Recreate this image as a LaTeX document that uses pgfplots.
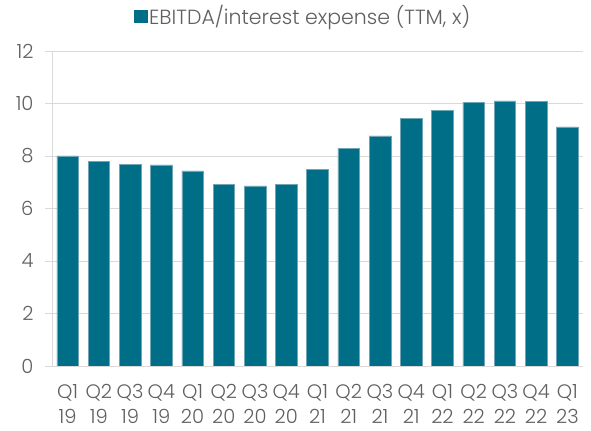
\documentclass[border=0pt]{standalone}
\usepackage{pgfplots}
\pgfplotsset{compat=1.18}
\usepackage{fontspec}
\IfFontExistsTF{Poppins Light}{\setmainfont{Poppins Light}}{\setmainfont{Open Sans}}
\definecolor{barcol}{HTML}{006E87}
\definecolor{baredge}{HTML}{6FA6B6}
\definecolor{txt}{HTML}{606060}
\definecolor{gridc}{HTML}{D9D9D9}

\begin{document}
\begin{tikzpicture}
\begin{axis}[
    scale only axis,
    width=531bp, height=315bp,
    ybar, bar width=0.69,
    xmin=-0.5, xmax=16.5,
    ymin=0, ymax=12,
    ytick={0,2,4,6,8,10,12},
    xtick=data,
    xticklabels={Q1\\19,Q2\\19,Q3\\19,Q4\\19,Q1\\20,Q2\\20,Q3\\20,Q4\\20,Q1\\21,Q2\\21,Q3\\21,Q4\\21,Q1\\22,Q2\\22,Q3\\22,Q4\\22,Q1\\23},
    axis x line*=bottom, axis y line*=left,
    axis line style={draw=gridc, line width=0.8bp},
    x tick style={draw=none},
    y tick style={draw=gridc, line width=0.8bp},
    tick align=outside, major tick length=7bp,
    ymajorgrids, grid style={draw=gridc, line width=0.8bp},
    /pgf/number format/assume math mode=true,
    tick label style={font=\fontsize{19.5bp}{25bp}\selectfont, text=txt},
    xticklabel style={align=center, yshift=-8bp},
    yticklabel style={xshift=-8bp},
    legend style={at={(rel axis cs:0.473,1.111)}, anchor=center, draw=none,
        fill=none, font=\fontsize{20.5bp}{24bp}\selectfont, text=txt,
        inner sep=0pt},
    legend image code/.code={\fill[barcol] (-2bp,-6bp) rectangle (10.5bp,6bp);},
]
\addplot[fill=barcol, draw=baredge, line width=0.5bp] coordinates {
    (0, 8.00) (1, 7.79) (2, 7.67) (3, 7.66) (4, 7.43) (5, 6.93)
    (6, 6.86) (7, 6.93) (8, 7.48) (9, 8.28) (10, 8.77) (11, 9.42)
    (12, 9.75) (13, 10.03) (14, 10.10) (15, 10.07) (16, 9.11)
};
\addlegendentry{EBITDA/interest expense (TTM, x)}
\end{axis}
\path[use as bounding box] (-52bp,-65bp) rectangle (539bp,366bp);
\end{tikzpicture}
\end{document}
